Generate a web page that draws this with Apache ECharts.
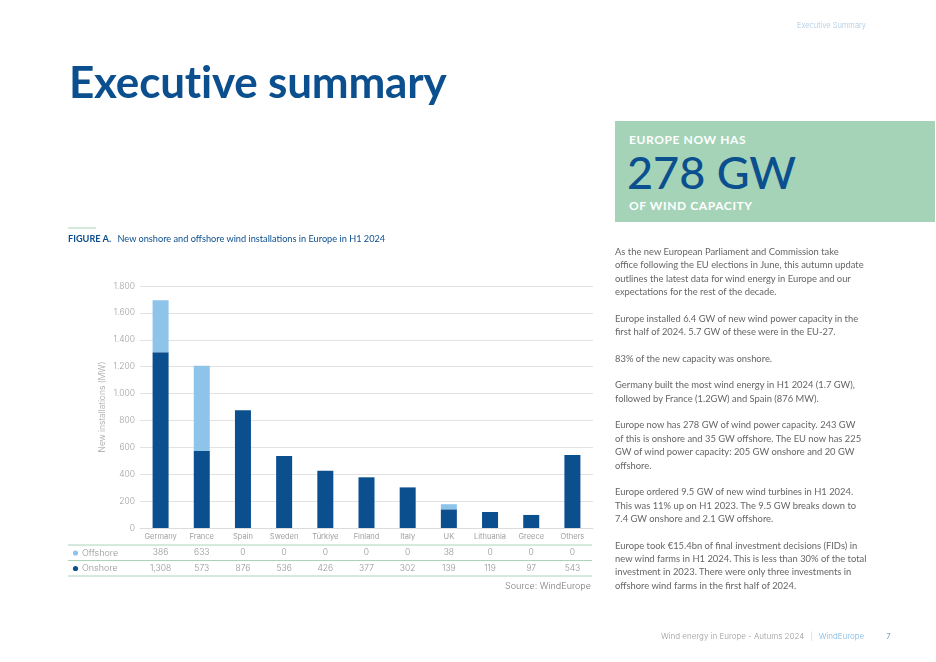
<!DOCTYPE html>
<html>
<head>
<meta charset="utf-8">
<script src="https://cdn.jsdelivr.net/npm/echarts@6/dist/echarts.min.js"></script>
<style>
  html, body { margin: 0; padding: 0; background: #fff; }
  #page { position: relative; width: 936px; height: 662px; overflow: hidden; font-family: Lato, sans-serif; }
  #chart { position: absolute; left: 0; top: 0; width: 936px; height: 662px; }
  .t { position: absolute; white-space: nowrap; pointer-events: none; }
  .geo { font-family: Inter, sans-serif; font-weight: 300; }
  #head { right: 70px; top: 21px; font-size: 7.5px; color: #a9c6de; }
  #title { left: 69px; top: 55px; font-size: 44px; font-weight: 700; color: #0b4f8e; letter-spacing: -0.2px; }
  #box { position: absolute; left: 615px; top: 121px; width: 320px; height: 101px; background: #a4d3b8; }
  #box .s { position: absolute; left: 14px; font-size: 12px; font-weight: 700; color: #fff; letter-spacing: 0.6px; }
  #box .b { position: absolute; left: 12px; top: 24px; font-size: 45px; font-weight: 500; color: #0b4f8e; }
  #fig { left: 68px; top: 233px; font-size: 9.2px; color: #0b4f8e; }
  #fig b { font-weight: 700; margin-right: 4px; }
  #text { left: 615px; top: 245px; font-size: 9.4px; line-height: 13.35px; color: #666; }
  #src { right: 345px; top: 580px; font-size: 9px; color: #777; }
  #foot { left: 661px; top: 631px; font-size: 8px; color: #999; }
  #foot span.bar { color: #ccc; margin: 0 6px; }
  #foot span.we { color: #7ab5e2; }
  #foot span.pg { color: #4a86c5; margin-left: 22px; }
</style>
</head>
<body>
<div id="page">
  <div id="chart"></div>
  <div class="t geo" id="head">Executive Summary</div>
  <div class="t" id="title">Executive summary</div>
  <div id="box">
    <div class="t s" style="top:11px">EUROPE NOW HAS</div>
    <div class="t b">278 GW</div>
    <div class="t s" style="top:77px">OF WIND CAPACITY</div>
  </div>
  <div class="t" id="fig"><b>FIGURE A.</b> New onshore and offshore wind installations in Europe in H1 2024</div>
  <div class="t" id="text">
    As the new European Parliament and Commission take<br>
    office following the EU elections in June, this autumn update<br>
    outlines the latest data for wind energy in Europe and our<br>
    expectations for the rest of the decade.<br><br>
    Europe installed 6.4 GW of new wind power capacity in the<br>
    first half of 2024. 5.7 GW of these were in the EU-27.<br><br>
    83% of the new capacity was onshore.<br><br>
    Germany built the most wind energy in H1 2024 (1.7 GW),<br>
    followed by France (1.2GW) and Spain (876 MW).<br><br>
    Europe now has 278 GW of wind power capacity. 243 GW<br>
    of this is onshore and 35 GW offshore. The EU now has 225<br>
    GW of wind power capacity: 205 GW onshore and 20 GW<br>
    offshore.<br><br>
    Europe ordered 9.5 GW of new wind turbines in H1 2024.<br>
    This was 11% up on H1 2023. The 9.5 GW breaks down to<br>
    7.4 GW onshore and 2.1 GW offshore.<br><br>
    Europe took €15.4bn of final investment decisions (FIDs) in<br>
    new wind farms in H1 2024. This is less than 30% of the total<br>
    investment in 2023. There were only three investments in<br>
    offshore wind farms in the first half of 2024.
  </div>
  <div class="t geo" id="src">Source: WindEurope</div>
  <div class="t geo" id="foot">Wind energy in Europe - Autums 2024<span class="bar">|</span><span class="we">WindEurope</span><span class="pg">7</span></div>
</div>
<script>
  // values in MW
  var countries = ['Germany', 'France', 'Spain', 'Sweden', 'Türkiye', 'Finland', 'Italy', 'UK', 'Lithuania', 'Greece', 'Others'];
  var offshore = [386, 633, 0, 0, 0, 0, 0, 38, 0, 0, 0];
  var onshore = [1308, 573, 876, 536, 426, 377, 302, 139, 119, 97, 543];
  var yTicks = { min: 0, max: 1800, step: 200 };

  var darkBlue = '#0b4f8e';
  var lightBlue = '#8fc4ea';
  var ruleGreen = '#a9d4b8';
  var chartFont = 'Inter';
  var labelGrey = '#a0a0a0';

  function withComma(v) {
    return String(v).replace(/\B(?=(\d{3})+(?!\d))/g, ',');
  }
  function withDot(v) {
    return String(v).replace(/\B(?=(\d{3})+(?!\d))/g, '.');
  }

  var myChart = echarts.init(document.getElementById('chart'));

  var option = {
    animation: false,
    textStyle: { fontFamily: chartFont, fontWeight: 300 },
    grid: { left: 140, right: 343, top: 286, bottom: 134 },
    xAxis: {
      type: 'category',
      data: countries,
      axisLine: { lineStyle: { color: '#dcdcdc' } },
      axisTick: { show: false },
      axisLabel: {
        interval: 0,
        margin: 1,
        formatter: function (value, idx) {
          return '{c|' + value + '}\n{o|' + withComma(offshore[idx]) + '}\n{n|' + withComma(onshore[idx]) + '}';
        },
        rich: {
          c: { fontSize: 7.5, color: labelGrey, lineHeight: 16, fontFamily: chartFont, fontWeight: 400 },
          o: { fontSize: 8.5, color: '#939393', lineHeight: 15.5, fontFamily: chartFont, fontWeight: 300 },
          n: { fontSize: 8.5, color: '#939393', lineHeight: 15.5, fontFamily: chartFont, fontWeight: 300 }
        }
      }
    },
    yAxis: {
      type: 'value',
      min: yTicks.min,
      max: yTicks.max,
      interval: yTicks.step,
      name: 'New installations (MW)',
      nameLocation: 'middle',
      nameGap: 33,
      nameTextStyle: { fontSize: 8.5, color: labelGrey, fontFamily: chartFont, fontWeight: 300 },
      axisLine: { show: false },
      axisTick: { show: false },
      axisLabel: {
        fontSize: 8.5,
        color: labelGrey,
        margin: 5,
        fontFamily: chartFont,
        fontWeight: 300,
        formatter: function (v) { return withDot(v); }
      },
      splitLine: { lineStyle: { color: '#e2e2e2', width: 1 } }
    },
    series: [
      {
        name: 'Onshore',
        type: 'bar',
        stack: 'total',
        barWidth: 16,
        data: onshore,
        itemStyle: { color: darkBlue }
      },
      {
        name: 'Offshore',
        type: 'bar',
        stack: 'total',
        barWidth: 16,
        data: offshore,
        itemStyle: { color: lightBlue }
      }
    ],
    graphic: [
      // short rule above figure caption
      { type: 'line', shape: { x1: 68, y1: 228, x2: 96, y2: 228 }, style: { stroke: ruleGreen, lineWidth: 1 } },
      // table rules
      { type: 'line', shape: { x1: 68, y1: 545, x2: 592, y2: 545 }, style: { stroke: ruleGreen, lineWidth: 1 } },
      { type: 'line', shape: { x1: 68, y1: 560.5, x2: 592, y2: 560.5 }, style: { stroke: ruleGreen, lineWidth: 1 } },
      { type: 'line', shape: { x1: 68, y1: 576, x2: 592, y2: 576 }, style: { stroke: ruleGreen, lineWidth: 1 } },
      // row labels
      { type: 'circle', shape: { cx: 75.5, cy: 553, r: 2.6 }, style: { fill: lightBlue } },
      { type: 'text', x: 82, y: 553, style: { text: 'Offshore', fontSize: 9, fill: '#939393', verticalAlign: 'middle', fontFamily: chartFont, fontWeight: 300 } },
      { type: 'circle', shape: { cx: 75.5, cy: 568.5, r: 2.6 }, style: { fill: darkBlue } },
      { type: 'text', x: 82, y: 568.5, style: { text: 'Onshore', fontSize: 9, fill: '#939393', verticalAlign: 'middle', fontFamily: chartFont, fontWeight: 300 } }
    ]
  };

  myChart.setOption(option);
</script>
</body>
</html>
